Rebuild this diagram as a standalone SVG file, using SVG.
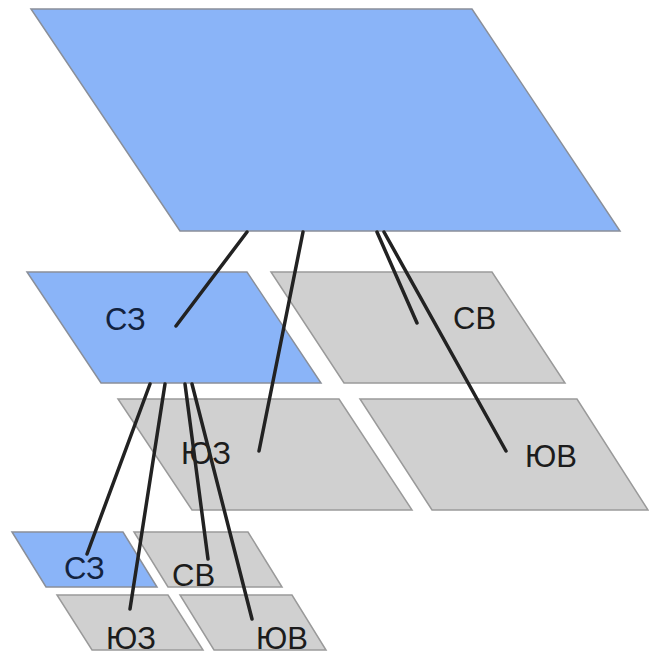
<svg xmlns="http://www.w3.org/2000/svg" width="649" height="655" viewBox="0 0 649 655">
<style>
.blue{fill:#8ab4f8;stroke:#8a8f99;stroke-width:1.5}
.gray{fill:#d0d0d0;stroke:#9a9a9a;stroke-width:1.5}
.lbl{font-family:"Liberation Sans",Arial,sans-serif;font-size:31px;fill:#1c1c1c}
.lb{fill:#13233f}
.conn line{stroke:#222;stroke-width:3.5;stroke-linecap:round}
</style>
<rect width="649" height="655" fill="#fff"/>
<g id="root"><polygon class="blue" points="31,9 472,9 620,231 180,231"/></g>
<g id="nw"><polygon class="blue" points="27,272 247,272 321,383 101,383"/><text class="lbl lb" x="105" y="330">СЗ</text></g>
<g id="ne"><polygon class="gray" points="271,272 492,272 565,383 344,383"/><text class="lbl" x="453" y="329">СВ</text></g>
<g id="sw"><polygon class="gray" points="118,399 339,399 412,510 192,510"/><text class="lbl" x="181" y="464">ЮЗ</text></g>
<g id="se"><polygon class="gray" points="360,399 577,399 648,510 432,510"/><text class="lbl" x="525" y="467">ЮВ</text></g>
<g id="nw-nw"><polygon class="blue" points="12,532 123,532 157,587 46,587"/><text class="lbl lb" x="64" y="579">СЗ</text></g>
<g id="nw-ne"><polygon class="gray" points="134,532 248,532 282,587 168,587"/><text class="lbl" x="172" y="586">СВ</text></g>
<g id="nw-sw"><polygon class="gray" points="57,595 168,595 203,650 92,650"/><text class="lbl" x="106" y="649">ЮЗ</text></g>
<g id="nw-se"><polygon class="gray" points="180,595 292,595 326,650 214,650"/><text class="lbl" x="256" y="649">ЮВ</text></g>
<g class="conn" id="connectors">
<line x1="247" y1="232" x2="176" y2="326"/>
<line x1="303" y1="232" x2="259" y2="451"/>
<line x1="377" y1="232" x2="417" y2="323"/>
<line x1="384" y1="232" x2="506" y2="451"/>
<line x1="150" y1="384" x2="87" y2="554"/>
<line x1="165" y1="384" x2="130" y2="609"/>
<line x1="185" y1="384" x2="208" y2="559"/>
<line x1="192" y1="384" x2="252" y2="619"/>
</g>
</svg>
